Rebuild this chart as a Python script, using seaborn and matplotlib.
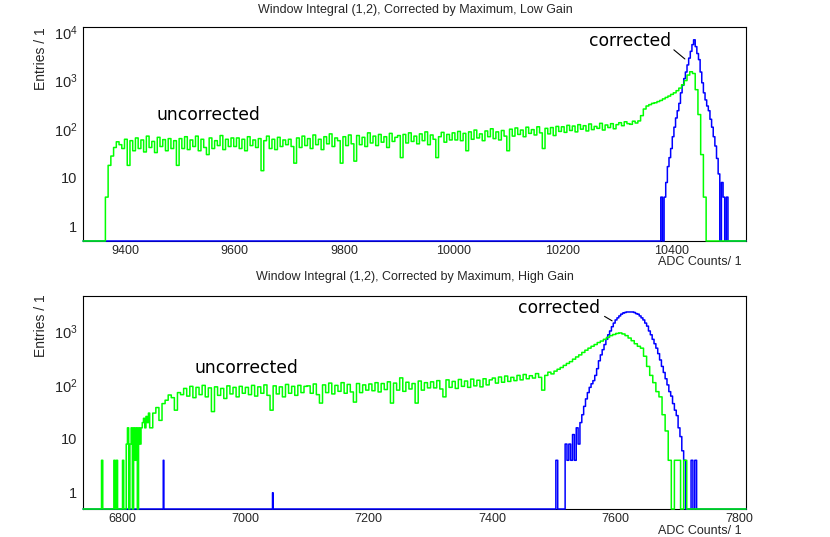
import numpy as np
import pandas as pd
import seaborn as sns
import matplotlib.pyplot as plt
from matplotlib.ticker import MultipleLocator, LogLocator, FixedLocator, FixedFormatter, NullFormatter

# ---- data: (bin start, bin width, entries per bin) ----
low_range = (9322, 10536)
low_unc_start, low_unc_width = 9363, 5
low_unc = [4, 18, 28, 42, 55, 48, 40,
           62, 18, 58, 36, 66, 40, 60, 34, 72, 42, 56, 33, 68, 44, 61, 36, 64, 40, 58, 18,
           64, 40, 70, 38, 60, 44, 72, 36, 62, 42, 30, 66, 40, 58, 46, 74, 38, 62, 44, 66,
           44, 66, 40, 62, 36, 70, 46, 60, 42, 64, 14, 58, 72, 40, 62, 38, 68, 44, 60, 48,
           62, 44, 20, 66, 42, 72, 46, 64, 40, 76, 48, 62, 38, 70, 50, 80, 44, 66, 58, 20,
           70, 46, 76, 50, 22, 74, 48, 68, 44, 84, 52, 72, 46, 78, 54, 70, 42, 82, 56, 68,
           74, 26, 78, 52, 84, 56, 72, 50, 80, 58, 88, 48, 76, 62, 26, 70, 86, 54, 78, 60,
           84, 60, 90, 58, 82, 36, 88, 62, 96, 66, 80, 58, 92, 70, 102, 64, 88, 60, 94, 72,
           36, 100, 72, 106, 78, 96, 70, 110, 82, 98, 76, 112, 84, 40, 104, 80, 108, 74, 114, 90,
           112, 86, 120, 94, 116, 88, 124, 100, 118, 92, 128, 98, 114, 104, 132, 96, 122, 108, 130, 102,
           124, 136, 118, 142, 130, 126, 146, 134, 148,
           190, 260, 300, 320, 340, 350, 370, 390, 420, 450, 480, 520, 560, 620, 700, 820,
           1000, 1300, 1520, 1400, 650, 200, 30, 4]
low_cor_start, low_cor_width = 10380, 3
low_cor = [4, 0, 4, 8, 17, 26, 40, 70, 110, 170, 240, 340, 560, 800, 1100, 1500, 2100,
           2900, 4000, 5500, 6900, 5000, 3600, 2700, 1500, 900, 560, 400, 300, 240, 160,
           110, 70, 45, 25, 12, 0, 8, 4, 0, 4]

high_range = (6737, 7811)
high_unc_edge_start, high_unc_edge_width = 6765, 2
high_unc_edge = [0, 4, 0, 0, 0, 0, 0, 0, 0, 0, 0, 4, 0, 4, 0, 0, 0, 0, 4, 0,
                 0, 8, 16, 0, 8, 16, 0, 16, 4, 16, 0, 16, 8, 16, 20, 24, 16, 26, 20, 30]
high_unc_start, high_unc_width = 6845, 5
high_unc = [16, 30, 38, 22, 45, 52, 65, 58, 34, 72, 66,
            86, 62, 94, 58, 90, 66, 98, 60, 88, 32, 92, 64, 86, 56, 96, 68, 90, 60, 94, 70,
            90, 66, 98, 62, 92, 70, 100, 64, 34, 96, 68, 92, 60, 102, 70, 94, 64, 98, 72, 94,
            96, 70, 104, 66, 46, 100, 72, 108, 68, 98, 76, 110, 70, 102, 74, 48, 106, 72, 100, 80,
            104, 78, 110, 74, 106, 82, 114, 46, 108, 80, 135, 76, 112, 84, 106, 46, 118, 80, 110, 88,
            114, 88, 120, 84, 60, 124, 90, 116, 86, 126, 94, 118, 90, 128, 96, 122, 92, 130, 100, 124,
            134, 108, 140, 112, 146, 116, 138, 120, 150, 124, 156, 130, 148, 134, 162, 138, 80, 150, 172, 160,
            180, 195, 210, 230, 250, 270, 300, 330, 360, 400, 440, 480, 520, 560, 610, 650, 700, 760, 820, 860,
            900, 920, 880, 820, 740, 660, 580, 520, 480, 340, 220, 150, 110, 75, 60, 28, 14, 4, 0, 4, 4, 0, 4]
high_cor_start, high_cor_width = 7503, 3
high_cor = [4, 0, 0, 0, 0, 8, 4, 8, 4, 12, 4, 16, 8, 20, 28, 40, 55, 72, 90, 105, 120, 150, 200,
            280, 360, 450, 560, 700, 850, 1000, 1200, 1400, 1600, 1750, 1900, 2050, 2150, 2200,
            2250, 2260, 2240, 2250, 2200, 2100, 2050, 1900, 1750, 1600, 1400, 1230, 1000, 850,
            700, 580, 480, 380, 290, 220, 170, 130, 100, 75, 62, 45, 34, 27, 16, 11, 6, 4,
            0, 0, 0, 4, 0, 4]
high_cor_spike_x = [6867, 7044]
high_cor_spike_y = [4, 1]

GREEN = "#00ff00"
BLUE = "#0000ff"
YMIN = 0.5

sns.set_style("white")
plt.rcParams["font.family"] = ["Liberation Sans", "DejaVu Sans"]
plt.rcParams["mathtext.fontset"] = "custom"
plt.rcParams["mathtext.rm"] = "Liberation Sans"
plt.rcParams["mathtext.it"] = "Liberation Sans"


def fill_counts(lo, hi, segments):
    # expand (start, width, values) segments into 1-count bins over [lo, hi)
    counts = np.zeros(hi - lo)
    for start, width, vals in segments:
        rep = np.repeat(np.asarray(vals, float), width)
        i0 = start - lo
        counts[i0:i0 + len(rep)] = rep
    return counts


def draw_hist(ax, lo, hi, counts, color):
    # empty bins sit on the frame bottom, as ROOT draws them
    df = pd.DataFrame({"adc": np.arange(lo, hi) + 0.5,
                       "entries": np.maximum(counts, YMIN)})
    sns.histplot(data=df, x="adc", weights="entries", binwidth=1, binrange=(lo, hi),
                 element="step", fill=False, color=color, linewidth=1.1,
                 clip_on=False, zorder=3, ax=ax)


def style_axes(ax, xr, ytop, yticks, ylabels):
    ax.set_yscale("log")
    ax.set_xlim(*xr)
    ax.set_ylim(YMIN, ytop)
    ax.set_xlabel("")
    ax.set_ylabel("")
    ax.xaxis.set_major_locator(MultipleLocator(200))
    ax.xaxis.set_minor_locator(MultipleLocator(50))
    ax.yaxis.set_major_locator(FixedLocator(yticks))
    ax.yaxis.set_major_formatter(FixedFormatter(ylabels))
    ax.yaxis.set_minor_locator(LogLocator(base=10, subs=np.arange(2, 10), numticks=30))
    ax.yaxis.set_minor_formatter(NullFormatter())
    ax.tick_params(axis="x", which="major", direction="in", length=4.7, width=0.8,
                   labelsize=9, pad=3, top=False)
    ax.tick_params(axis="x", which="minor", direction="in", length=2.4, width=0.8, top=False)
    ax.tick_params(axis="y", which="major", direction="in", length=14.4, width=0.8,
                   labelsize=10.5, pad=4, right=False)
    ax.tick_params(axis="y", which="minor", direction="in", length=7.2, width=0.8, right=False)
    for s in ax.spines.values():
        s.set_color("black")
        s.set_linewidth(0.8)


W, H = 830, 537
fig = plt.figure(figsize=(W / 100, H / 100), dpi=100)
ax1 = fig.add_axes([83 / W, 1 - 241 / H, 663 / W, 214 / H])
ax2 = fig.add_axes([83 / W, 1 - 509 / H, 663 / W, 213 / H])

# low gain
lo, hi = low_range
draw_hist(ax1, lo, hi, fill_counts(lo, hi, [(low_cor_start, low_cor_width, low_cor)]), BLUE)
draw_hist(ax1, lo, hi, fill_counts(lo, hi, [(low_unc_start, low_unc_width, low_unc)]), GREEN)
style_axes(ax1, low_range, 12670, [1, 10, 100, 1000, 10000],
           ["1", "10", r"$10^{2}$", r"$10^{3}$", r"$10^{4}$"])

# high gain
lo, hi = high_range
spikes = [(x, 1, [y]) for x, y in zip(high_cor_spike_x, high_cor_spike_y)]
draw_hist(ax2, lo, hi, fill_counts(lo, hi, spikes + [(high_cor_start, high_cor_width, high_cor)]), BLUE)
draw_hist(ax2, lo, hi, fill_counts(lo, hi, [(high_unc_edge_start, high_unc_edge_width, high_unc_edge),
                                            (high_unc_start, high_unc_width, high_unc)]), GREEN)
style_axes(ax2, high_range, 4450, [1, 10, 100, 1000],
           ["1", "10", r"$10^{2}$", r"$10^{3}$"])

# labels
ann = dict(family="DejaVu Sans", fontsize=12.3, color="black")
ax1.text(9457, 157, "uncorrected", ha="left", va="baseline", **ann)
ax1.text(10248, 5210, "corrected", ha="left", va="baseline", **ann)
ax1.annotate("", xy=(10428, 2560), xytext=(10400, 4670),
             arrowprops=dict(arrowstyle="-", lw=0.8, color="black"))
ax2.text(6917, 167, "uncorrected", ha="left", va="baseline", **ann)
ax2.text(7442, 2150, "corrected", ha="left", va="baseline", **ann)
ax2.annotate("", xy=(7598, 1450), xytext=(7578, 1980),
             arrowprops=dict(arrowstyle="-", lw=0.8, color="black"))

fig.text(0.5, 1 - 10 / H, "Window Integral (1,2), Corrected by Maximum, Low Gain",
         ha="center", va="center", fontsize=9)
fig.text(0.5, 1 - 277 / H, "Window Integral (1,2), Corrected by Maximum, High Gain",
         ha="center", va="center", fontsize=9)
fig.text(742 / W, 1 - 262 / H, "ADC Counts/ 1", ha="right", va="center", fontsize=9)
fig.text(742 / W, 1 - 531 / H, "ADC Counts/ 1", ha="right", va="center", fontsize=9)
fig.text(41 / W, 1 - 27 / H, "Entries / 1", rotation=90, ha="center", va="top", fontsize=10)
fig.text(41 / W, 1 - 294 / H, "Entries / 1", rotation=90, ha="center", va="top", fontsize=10)

fig.savefig("out.png", dpi=100)
